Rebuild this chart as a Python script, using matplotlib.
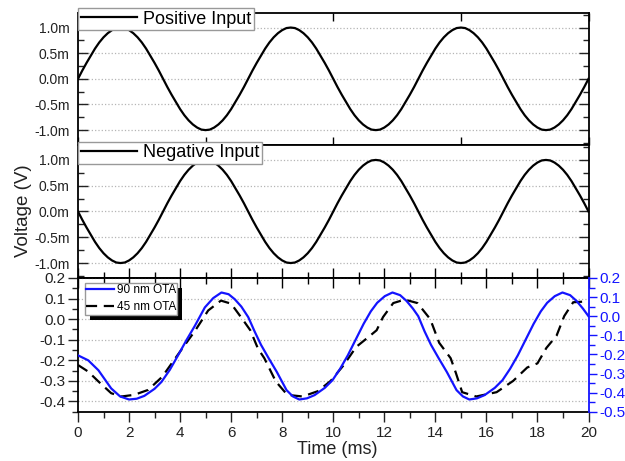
import numpy as np
import matplotlib.pyplot as plt
from matplotlib.patches import Rectangle
from matplotlib.ticker import MultipleLocator

plt.rcParams['font.family'] = ['Liberation Sans', 'DejaVu Sans']

# ---- input sines (mV), sampled every 1/6 ms ----
time_in = np.linspace(0, 20, 121)
pos_input = [0.0, 0.16, 0.31, 0.45, 0.59, 0.71, 0.81, 0.89, 0.95, 0.99,
             1.0, 0.99, 0.95, 0.89, 0.81, 0.71, 0.59, 0.45, 0.31, 0.16,
             0.0, -0.16, -0.31, -0.45, -0.59, -0.71, -0.81, -0.89, -0.95, -0.99,
             -1.0, -0.99, -0.95, -0.89, -0.81, -0.71, -0.59, -0.45, -0.31, -0.16,
             0.0, 0.16, 0.31, 0.45, 0.59, 0.71, 0.81, 0.89, 0.95, 0.99,
             1.0, 0.99, 0.95, 0.89, 0.81, 0.71, 0.59, 0.45, 0.31, 0.16,
             0.0, -0.16, -0.31, -0.45, -0.59, -0.71, -0.81, -0.89, -0.95, -0.99,
             -1.0, -0.99, -0.95, -0.89, -0.81, -0.71, -0.59, -0.45, -0.31, -0.16,
             0.0, 0.16, 0.31, 0.45, 0.59, 0.71, 0.81, 0.89, 0.95, 0.99,
             1.0, 0.99, 0.95, 0.89, 0.81, 0.71, 0.59, 0.45, 0.31, 0.16,
             0.0, -0.16, -0.31, -0.45, -0.59, -0.71, -0.81, -0.89, -0.95, -0.99,
             -1.0, -0.99, -0.95, -0.89, -0.81, -0.71, -0.59, -0.45, -0.31, -0.16,
             0.0]
neg_input = [0.0, -0.16, -0.31, -0.45, -0.59, -0.71, -0.81, -0.89, -0.95, -0.99,
             -1.0, -0.99, -0.95, -0.89, -0.81, -0.71, -0.59, -0.45, -0.31, -0.16,
             0.0, 0.16, 0.31, 0.45, 0.59, 0.71, 0.81, 0.89, 0.95, 0.99,
             1.0, 0.99, 0.95, 0.89, 0.81, 0.71, 0.59, 0.45, 0.31, 0.16,
             0.0, -0.16, -0.31, -0.45, -0.59, -0.71, -0.81, -0.89, -0.95, -0.99,
             -1.0, -0.99, -0.95, -0.89, -0.81, -0.71, -0.59, -0.45, -0.31, -0.16,
             0.0, 0.16, 0.31, 0.45, 0.59, 0.71, 0.81, 0.89, 0.95, 0.99,
             1.0, 0.99, 0.95, 0.89, 0.81, 0.71, 0.59, 0.45, 0.31, 0.16,
             0.0, -0.16, -0.31, -0.45, -0.59, -0.71, -0.81, -0.89, -0.95, -0.99,
             -1.0, -0.99, -0.95, -0.89, -0.81, -0.71, -0.59, -0.45, -0.31, -0.16,
             0.0, 0.16, 0.31, 0.45, 0.59, 0.71, 0.81, 0.89, 0.95, 0.99,
             1.0, 0.99, 0.95, 0.89, 0.81, 0.71, 0.59, 0.45, 0.31, 0.16,
             0.0]

# ---- 90 nm OTA output (right axis, V) ----
t_90 = [0.0, 0.4, 0.8, 1.3, 1.65, 2.0, 2.3, 2.6, 3.0, 3.27, 3.6, 3.92, 4.25, 4.58,
        4.97, 5.3, 5.62, 5.9, 6.14, 6.4, 6.67,
        6.92, 7.17, 7.47, 7.79, 8.17, 8.42, 8.67, 8.97, 9.27, 9.67, 9.97, 10.27,
        10.57, 10.87, 11.19, 11.47, 11.72, 12.02, 12.32, 12.62, 12.87, 13.12, 13.33,
        13.58, 13.83, 14.13, 14.45, 14.83, 15.08, 15.33, 15.63, 15.93, 16.33, 16.63,
        16.93, 17.23, 17.53, 17.85, 18.13, 18.38, 18.68, 18.98, 19.28, 19.53, 19.78, 20.0]
v_90 = [-0.205, -0.231, -0.283, -0.378, -0.42, -0.436, -0.432, -0.417, -0.38, -0.344,
        -0.28, -0.205, -0.125, -0.05, 0.046, 0.095, 0.124, 0.115, 0.089, 0.05, -0.005,
        -0.08, -0.15, -0.22, -0.292, -0.387, -0.42, -0.436, -0.43, -0.413, -0.375,
        -0.335, -0.275, -0.205, -0.125, -0.04, 0.025, 0.07, 0.105, 0.124, 0.11, 0.08,
        0.04, 0.0,
        -0.08, -0.15, -0.22, -0.292, -0.387, -0.42, -0.436, -0.43, -0.413, -0.375,
        -0.335, -0.275, -0.205, -0.125, -0.04, 0.025, 0.07, 0.105, 0.124, 0.11, 0.08,
        0.04, 0.0]

# ---- 45 nm OTA output (left axis, V) ----
t_45 = [0.0, 0.4, 0.8, 1.3, 1.7, 2.2, 2.75, 3.3, 3.9, 4.6, 5.1, 5.6, 6.0, 6.5, 6.75,
        7.05, 7.3, 7.75, 8.2, 8.8, 9.4, 9.9, 10.4, 10.9, 11.4, 11.7, 11.95, 12.35,
        12.8, 13.3, 13.8, 14.15, 14.6, 14.8, 15.05, 15.6, 16.4, 17.05, 17.6, 18.0,
        18.35, 18.75, 19.05, 19.4, 19.8, 20.0]
v_45 = [-0.223, -0.255, -0.303, -0.36, -0.376, -0.368, -0.344, -0.28, -0.175, -0.054,
        0.042, 0.09, 0.075, -0.01, -0.054, -0.143, -0.19, -0.303, -0.368, -0.376,
        -0.35, -0.30, -0.225, -0.135, -0.085, -0.054, 0.01, 0.078, 0.095, 0.078, 0.0,
        -0.115, -0.19, -0.26, -0.355, -0.376, -0.355, -0.30, -0.235, -0.215, -0.14,
        -0.08, 0.015, 0.082, 0.085, 0.075]

in_ticks = [1.0, 0.5, 0.0, -0.5, -1.0]
in_labels = ['1.0m', '0.5m', '0.0m', '-0.5m', '-1.0m']
left_ticks = [0.2, 0.1, 0.0, -0.1, -0.2, -0.3, -0.4]
left_labels = ['0.2', '0.1', '0.0', '-0.1', '-0.2', '-0.3', '-0.4']
right_ticks = [0.2, 0.1, 0.0, -0.1, -0.2, -0.3, -0.4, -0.5]
right_labels = ['0.2', '0.1', '0.0', '-0.1', '-0.2', '-0.3', '-0.4', '-0.5']
x_ticks = [0, 2, 4, 6, 8, 10, 12, 14, 16, 18, 20]

blue = '#1414ff'
grid_kw = dict(ls=':', color='#b5b5b5', lw=0.9)

fig = plt.figure(figsize=(6.25, 4.61), dpi=100)
ax1 = fig.add_axes([0.1248, 0.6855, 0.8168, 0.287])
ax2 = fig.add_axes([0.1248, 0.3970, 0.8168, 0.2885])
ax3 = fig.add_axes([0.1248, 0.1069, 0.8168, 0.2901])
ax3r = ax3.twinx()

# top two panels
for ax, data, name, yanc in [(ax1, pos_input, 'Positive Input', 1.0355),
                             (ax2, neg_input, 'Negative Input', 1.025)]:
    ax.plot(time_in, data, color='black', lw=1.6, label=name)
    ax.set_xlim(0, 20)
    ax.set_ylim(-1.29, 1.29)
    ax.set_yticks(in_ticks, in_labels)
    ax.yaxis.set_minor_locator(MultipleLocator(0.25))
    ax.tick_params(axis='y', which='both', direction='in', right=True,
                   labelsize=10, pad=6, colors='#222222')
    ax.tick_params(axis='y', which='major', length=7, width=1)
    ax.tick_params(axis='y', which='minor', length=4, width=1)
    ax.yaxis.grid(True, **grid_kw)
    for s in ax.spines.values():
        s.set_linewidth(1.3)
    leg = ax.legend(loc='upper left', bbox_to_anchor=(0.0, yanc), borderaxespad=0,
                    fontsize=13, handlelength=3.1, handletextpad=0.35, borderpad=0.15,
                    fancybox=False, framealpha=1, edgecolor='#999999')
    leg.get_frame().set_linewidth(1.0)

ax1.set_xticks([0, 5, 10, 15, 20])
ax1.tick_params(axis='x', direction='in', top=True, labelbottom=False,
                length=6, width=1)
ax2.set_xticks([])

# bottom panel
ax3.plot(t_45, v_45, color='black', lw=1.6, ls=(0, (5, 3)), label='45 nm OTA')
ax3r.plot(t_90, v_90, color=blue, lw=1.6, label='90 nm OTA')

ax3.set_xlim(0, 20)
ax3.set_ylim(-0.45, 0.2)
ax3r.set_ylim(-0.5, 0.2)
ax3.set_xticks(x_ticks)
ax3.xaxis.set_minor_locator(MultipleLocator(1))
ax3.set_yticks(left_ticks, left_labels)
ax3.yaxis.set_minor_locator(MultipleLocator(0.05))
ax3r.set_yticks(right_ticks, right_labels)
ax3r.yaxis.set_minor_locator(MultipleLocator(0.05))

ax3.tick_params(axis='both', which='both', direction='out', labelsize=11,
                colors='#222222')
ax3.tick_params(axis='both', which='major', length=7, width=1)
ax3.tick_params(axis='both', which='minor', length=4, width=1)
ax3.tick_params(axis='y', pad=2)
ax3.tick_params(axis='x', pad=3)
ax3.yaxis.grid(True, **grid_kw)

top = ax3.secondary_xaxis('top')
top.set_xticks(x_ticks)
top.xaxis.set_minor_locator(MultipleLocator(1))
top.tick_params(axis='x', which='both', direction='inout', labeltop=False, width=1)
top.tick_params(axis='x', which='major', length=14)
top.tick_params(axis='x', which='minor', length=8)
top.spines['top'].set_linewidth(1.3)

ax3r.tick_params(axis='y', which='both', direction='out', colors=blue,
                 labelsize=11, pad=2, width=1)
ax3r.tick_params(axis='y', which='major', length=6)
ax3r.tick_params(axis='y', which='minor', length=4)
ax3.spines['right'].set_visible(False)
for k in ['left', 'top', 'bottom']:
    ax3r.spines[k].set_visible(False)
ax3r.spines['right'].set_color(blue)
ax3r.spines['right'].set_linewidth(1.3)
for k in ['left', 'top', 'bottom']:
    ax3.spines[k].set_linewidth(1.3)

h1, l1 = ax3r.get_legend_handles_labels()
h2, l2 = ax3.get_legend_handles_labels()
leg3 = ax3r.legend(h1 + h2, l1 + l2, loc='upper left', bbox_to_anchor=(0.0137, 0.9626),
                   borderaxespad=0, fontsize=8.5, handlelength=2.3, handletextpad=0.25,
                   borderpad=0.12, labelspacing=0.4, fancybox=False, framealpha=1,
                   edgecolor='#999999')
leg3.get_frame().set_linewidth(1.0)

fig.text(23.5 / 625, 1 - 211 / 461, 'Voltage (V)', rotation=90, ha='center',
         va='center', fontsize=13.5, color='#222222')
fig.text(337 / 625, 1 - 449 / 461, 'Time (ms)', ha='center', va='center',
         fontsize=13, color='#222222')

# black drop shadow behind the bottom legend
fig.canvas.draw()
bb = leg3.get_frame().get_window_extent()
inv = fig.transFigure.inverted()
(x0, y0) = inv.transform((bb.x0 + 5, bb.y0 - 5))
(x1, y1) = inv.transform((bb.x1 + 5, bb.y1 - 5))
ax3r.add_patch(Rectangle((x0, y0), x1 - x0, y1 - y0, transform=fig.transFigure,
                         facecolor='black', edgecolor='none', zorder=4.9,
                         clip_on=False))

fig.savefig('out.png', dpi=100)
